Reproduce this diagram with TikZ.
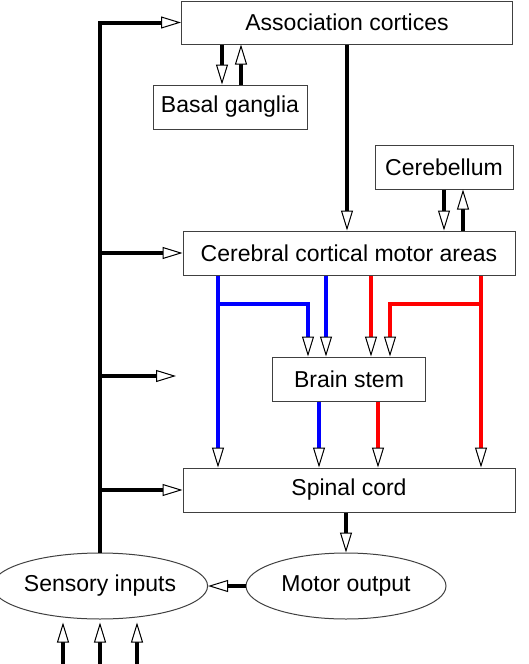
\documentclass[tikz,border=0pt]{standalone}
\usepackage{fontspec}
\setmainfont{Liberation Sans}
\usetikzlibrary{arrows.meta, calc, shapes.geometric}

\begin{document}
\begin{tikzpicture}[x=0.5pt, y=-0.5pt,
    boite/.style={draw=black!75, line width=0.5pt, minimum height=22pt, inner sep=0pt, font=\fontsize{11.5}{13}\selectfont},
    bulle/.style={ellipse, draw=black!75, line width=0.5pt, minimum width=100pt, minimum height=33pt, inner sep=0pt, font=\fontsize{11.5}{13}\selectfont},
    fleche/.style={line width=2pt, -{Triangle[color=black, fill=white, length=10pt, width=6pt, line width=0.5pt]}}]
      \useasboundingbox (0,0) rectangle (529,664);

      \node[boite, minimum width=165.5pt, minimum height=21.5pt] (cortex) at (347,22.5) {Association cortices};
      \node[boite, minimum width=77pt] (basal) at (230,107) {Basal ganglia};
      \node[boite, minimum width=69pt] (cerebellum) at (444,167) {Cerebellum};
      \node[boite, minimum width=166pt] (motor) at (349,253) {Cerebral cortical motor areas};
      \node[boite, minimum width=76.5pt] (brainstem) at (349,379) {Brain stem};
      \node[boite, minimum width=166pt] (spinal) at (349,490) {Spinal cord};
      \node[bulle] (sensory) at (100,586) {Sensory inputs};
      \node[bulle] (motorout) at (346,586) {Motor output};

      % boucles ganglions / cervelet
      \coordinate (basdown) at ($(basal.north)+(-8,0)$);
      \coordinate (basup) at ($(basal.north)+(11,0)$);
      \draw[fleche] (basdown |- cortex.south) -- (basdown);
      \draw[fleche] (basup) -- (basup |- cortex.south);
      \coordinate (cbup) at ($(cerebellum.south)+(19,0)$);
      \draw[fleche] (cerebellum.south) -- (cerebellum.south |- motor.north);
      \draw[fleche] (cbup |- motor.north) -- (cbup);
      \draw[fleche] (cortex.south) -- (cortex.south |- motor.north);

      % voies descendantes
      \foreach \dx/\coul/\de/\vers in {-131/blue/motor/spinal, -23/blue/motor/brainstem, 22/red/motor/brainstem, 132/red/motor/spinal, -30/blue/brainstem/spinal, 29/red/brainstem/spinal} {
        \draw[fleche, draw=\coul] ($(\de.south)+(\dx,0)$) -- ($(\vers.north)+(\dx,0)$);
      }
      \draw[fleche, draw=blue] ($(motor.south)+(-131,28)$) -| ($(brainstem.north)+(-41,0)$);
      \draw[fleche, draw=red] ($(motor.south)+(132,28)$) -| ($(brainstem.north)+(41,0)$);

      % sortie et entrees
      \draw[fleche] (motorout.north |- spinal.south) -- (motorout.north);
      \draw[fleche] (motorout.west) -- (sensory.east);
      \foreach \dx in {-37, 0, 37} {
        \coordinate (entree) at ($(sensory.south)+(\dx,45)$);
        \draw[fleche] (entree) -- ($(sensory.south)+(\dx,3)$);
      }

      % retour sensoriel
      \draw[fleche] (sensory.north) |- (cortex.west);
      \foreach \cible in {motor, spinal} {
        \draw[fleche] (sensory.north |- \cible.west) -- (\cible.west);
      }
      \coordinate (libre) at (176,376);
      \draw[fleche] (sensory.north |- libre) -- (libre);
    \end{tikzpicture}
\end{document}
